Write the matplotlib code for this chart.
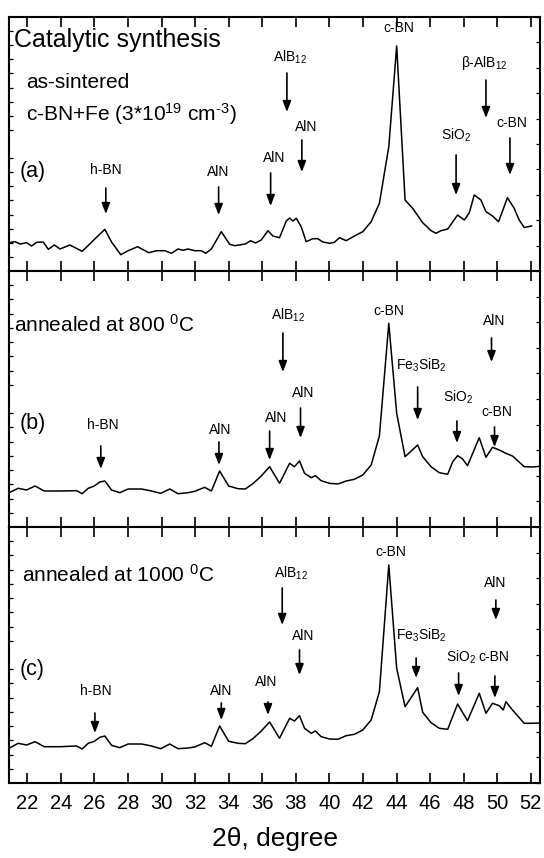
"""XRD patterns of c-BN+Fe catalytic synthesis: as-sintered and annealed."""

import matplotlib
matplotlib.use("Agg")
import matplotlib.pyplot as plt
from matplotlib.ticker import MultipleLocator

plt.rcParams["font.family"] = ["Liberation Sans", "DejaVu Sans"]
plt.rcParams["mathtext.fontset"] = "custom"
plt.rcParams["mathtext.rm"] = "Liberation Sans"
plt.rcParams["mathtext.it"] = "Liberation Sans:italic"
plt.rcParams["mathtext.default"] = "regular"

# ---- data (2theta in degrees, intensity in a.u.) ----
two_theta_a = [20.91, 21.27, 21.57, 21.96, 22.26, 22.56, 22.95, 23.25, 23.61, 23.95,
               24.54, 25.27, 26.62, 27.02, 27.57, 28.01, 28.57, 29.24, 29.70, 30.19,
               30.59, 30.98, 31.28, 31.58, 31.98, 32.37, 32.63, 32.97, 33.56, 34.06,
               34.36, 34.99, 35.31, 35.59, 35.94, 36.34, 36.63, 37.03, 37.43, 37.63,
               37.82, 38.03, 38.32, 38.62, 39.01, 39.31, 39.61, 40.01, 40.30, 40.60,
               41.00, 41.60, 41.99, 42.49, 42.98, 43.54, 44.01, 44.51, 44.96, 45.56,
               46.06, 46.35, 46.65, 47.05, 47.64, 48.04, 48.34, 48.63, 49.03, 49.33,
               49.72, 50.08, 50.61, 51.01, 51.31, 51.61, 52.05]
intensity_a = [28.3, 29.3, 27.0, 28.3, 25.0, 28.7, 29.0, 21.7, 26.0, 22.0,
               26.0, 19.7, 41.7, 29.0, 16.3, 20.3, 24.3, 18.3, 20.3, 20.3,
               17.7, 22.0, 20.7, 22.0, 20.3, 20.3, 17.7, 22.0, 39.3, 26.7,
               25.3, 27.0, 30.3, 28.0, 31.0, 40.3, 35.0, 33.3, 50.0, 53.0,
               50.0, 52.7, 44.3, 29.3, 32.3, 32.3, 29.0, 27.7, 28.7, 33.3,
               30.3, 36.0, 39.3, 49.3, 67.7, 124.3, 225.0, 71.0, 62.7, 48.3,
               40.3, 37.7, 40.3, 42.0, 56.0, 51.0, 58.3, 76.0, 71.0, 59.3,
               55.0, 49.3, 73.3, 62.7, 51.0, 43.5, 45.0]

two_theta_b = [20.91, 21.46, 21.96, 22.46, 23.01, 23.95, 24.94, 25.27, 25.63, 25.99,
               26.32, 26.62, 27.02, 27.51, 28.01, 28.81, 29.40, 29.95, 30.49, 30.98,
               31.58, 31.98, 32.57, 32.97, 33.46, 34.00, 34.55, 34.99, 35.44, 35.90,
               36.44, 37.03, 37.63, 37.92, 38.22, 38.52, 38.92, 39.17, 39.51, 40.01,
               40.50, 41.00, 41.49, 41.99, 42.49, 42.98, 43.54, 44.01, 44.51, 45.26,
               45.56, 46.06, 46.55, 47.05, 47.35, 47.64, 47.94, 48.23, 48.93, 49.33,
               49.72, 50.12, 50.52, 50.91, 51.61, 52.10, 52.55]
intensity_b = [34.3, 38.7, 37.0, 41.0, 36.0, 36.0, 36.3, 33.3, 38.7, 41.0,
               45.0, 46.0, 37.0, 34.3, 38.0, 38.0, 36.0, 33.7, 38.0, 33.3,
               34.3, 35.7, 39.7, 36.0, 56.0, 41.0, 38.3, 38.0, 43.3, 50.3,
               60.3, 43.7, 63.7, 60.3, 66.0, 53.7, 49.3, 51.3, 46.3, 43.7,
               43.0, 46.0, 47.7, 52.0, 62.0, 91.0, 203.7, 113.7, 70.3, 82.0,
               70.3, 60.3, 54.3, 52.7, 65.3, 71.3, 68.0, 61.3, 89.3, 69.7,
               79.7, 77.0, 73.7, 71.0, 60.3, 60.0, 60.7]

two_theta_c = [20.91, 21.46, 21.96, 22.46, 23.01, 23.95, 24.94, 25.27, 25.63, 25.99,
               26.32, 26.62, 27.02, 27.51, 28.01, 28.81, 29.40, 29.95, 30.49, 30.98,
               31.58, 31.98, 32.57, 32.97, 33.46, 34.00, 34.55, 34.99, 35.44, 35.90,
               36.44, 37.03, 37.63, 37.92, 38.22, 38.52, 38.92, 39.17, 39.51, 40.01,
               40.50, 41.00, 41.49, 41.99, 42.49, 42.98, 43.54, 44.01, 44.51, 45.26,
               45.56, 46.06, 46.55, 47.05, 47.64, 48.23, 48.93, 49.33, 49.72, 50.12,
               50.36, 50.52, 50.91, 51.61, 52.10, 52.55]
intensity_c = [34.7, 39.7, 38.0, 41.3, 36.3, 36.3, 37.0, 34.0, 39.7, 41.7,
               45.7, 47.0, 37.7, 35.3, 39.0, 39.0, 37.0, 34.3, 39.0, 34.3,
               35.0, 36.0, 40.3, 36.7, 57.0, 41.7, 39.7, 39.3, 44.3, 51.3,
               61.0, 44.7, 64.7, 62.0, 67.3, 54.7, 49.7, 52.0, 46.3, 44.0,
               43.7, 47.3, 48.7, 53.0, 63.0, 91.3, 218.0, 114.7, 76.3, 95.3,
               70.7, 60.3, 54.7, 53.7, 79.0, 62.3, 89.7, 69.7, 79.7, 77.3,
               73.0, 81.3, 73.0, 59.7, 59.7, 60.0]

# peak labels: (label, text x, text y, arrow x, arrow top, arrow tip); arrow x None = no arrow
ALB12 = r"AlB$_{12}$"
SIO2 = r"SiO$_2$"
FESIB = r"Fe$_3$SiB$_2$"
peaks_a = [
    ("h-BN", 26.65, 101, 26.68, 83, 57),
    ("AlN", 33.40, 99, 33.40, 84, 56),
    ("AlN", 36.68, 113, 36.50, 98, 65),
    (ALB12, 37.63, 214, 37.47, 198, 159),
    ("AlN", 38.62, 144, 38.36, 131, 99),
    ("c-BN", 44.13, 243, None, 0, 0),
    (SIO2, 47.54, 136, 47.55, 116, 76),
    (r"$\beta$-AlB$_{12}$", 49.23, 208, 49.33, 191, 153),
    ("c-BN", 50.90, 148, 50.76, 133, 96),
]
peaks_b = [
    ("h-BN", 26.50, 102, 26.38, 81, 58),
    ("AlN", 33.52, 97, 33.42, 85, 62),
    ("AlN", 36.80, 109, 36.44, 96, 67),
    (ALB12, 37.53, 212, 37.23, 194, 155),
    ("AlN", 38.46, 134, 38.28, 119, 89),
    ("c-BN", 43.52, 216, None, 0, 0),
    (FESIB, 45.46, 162, 45.26, 140, 107),
    (SIO2, 47.64, 130, 47.60, 106, 84),
    ("AlN", 49.82, 206, 49.66, 189, 165),
    ("c-BN", 49.98, 115, 49.84, 100, 80),
]
peaks_c = [
    ("h-BN", 26.11, 92, 26.03, 70, 50),
    ("AlN", 33.58, 92, 33.56, 80, 63),
    ("AlN", 36.26, 101, 36.34, 81, 68),
    (ALB12, 37.73, 210, 37.19, 195, 158),
    ("AlN", 38.42, 147, 38.22, 133, 108),
    ("c-BN", 43.68, 231, None, 0, 0),
    (FESIB, 45.46, 148, 45.17, 125, 105),
    (SIO2, 47.84, 126, 47.70, 110, 87),
    ("AlN", 49.88, 200, 49.92, 183, 163),
    ("c-BN", 49.82, 126, 49.86, 107, 85),
]

panels = [
    (two_theta_a, intensity_a, peaks_a, 254, "(a)", 99,
     [("Catalytic synthesis", 21.21, 231, 18),
      ("as-sintered", 21.92, 189, 15),
      ("c-BN+Fe (3*10$^{19}$ cm$^{\u20103}$)", 21.92, 157, 15)]),
    (two_theta_b, intensity_b, peaks_b, 256, "(b)", 104,
     [(r"annealed at 800 $^0$C", 21.21, 202, 15)]),
    (two_theta_c, intensity_c, peaks_c, 256, "(c)", 114,
     [(r"annealed at 1000 $^0$C", 21.69, 208, 15)]),
]

W, H = 544, 858
fig = plt.figure(figsize=(W / 100, H / 100), dpi=100)
left, right = 9 / W, 540 / W
edges = [17, 271, 527, 783]  # pixel rows of panel borders

for i, (tt, inten, peaks, ytop, tag, tag_y, notes) in enumerate(panels):
    top, bot = edges[i], edges[i + 1]
    ax = fig.add_axes([left, 1 - bot / H, right - left, (bot - top) / H])
    ax.plot(tt, inten, color="black", lw=1.1)
    ax.set_xlim(20.91, 52.55)
    ax.set_ylim(0, ytop)

    ax.xaxis.set_major_locator(MultipleLocator(2))
    ax.yaxis.set_major_locator(MultipleLocator(ytop / 10))
    ax.yaxis.set_minor_locator(MultipleLocator(ytop / 18))
    ax.tick_params(axis="x", which="major", direction="in", top=True, bottom=True,
                   length=7.5, width=1.2, labelsize=14.5, pad=8)
    ax.tick_params(axis="y", which="major", direction="in", left=False, right=True,
                   length=3, width=0.9, labelleft=False)
    ax.tick_params(axis="y", which="minor", direction="in", left=True, right=False,
                   length=3, width=0.9)
    if i < 2:
        ax.tick_params(axis="x", labelbottom=False)
    for sp in ax.spines.values():
        sp.set_linewidth(1.5)

    for label, tx, ty, axx, a_top, a_tip in peaks:
        ax.text(tx, ty, label, ha="center", va="center", fontsize=10)
        if axx is not None:
            ax.annotate("", xy=(axx, a_tip), xytext=(axx, a_top),
                        arrowprops=dict(arrowstyle="-|>,head_length=0.65,head_width=0.25",
                                        color="black", lw=1.2, shrinkA=0, shrinkB=0,
                                        mutation_scale=10))

    ax.text(22.3, tag_y, tag, ha="center", va="center", fontsize=15.5)
    for txt, nx, ny, fs in notes:
        ax.text(nx, ny, txt, ha="left", va="center", fontsize=fs)

    if i == 2:
        ax.set_xlabel("2θ, degree", fontsize=19, labelpad=10)

fig.savefig("out.png", dpi=100)
